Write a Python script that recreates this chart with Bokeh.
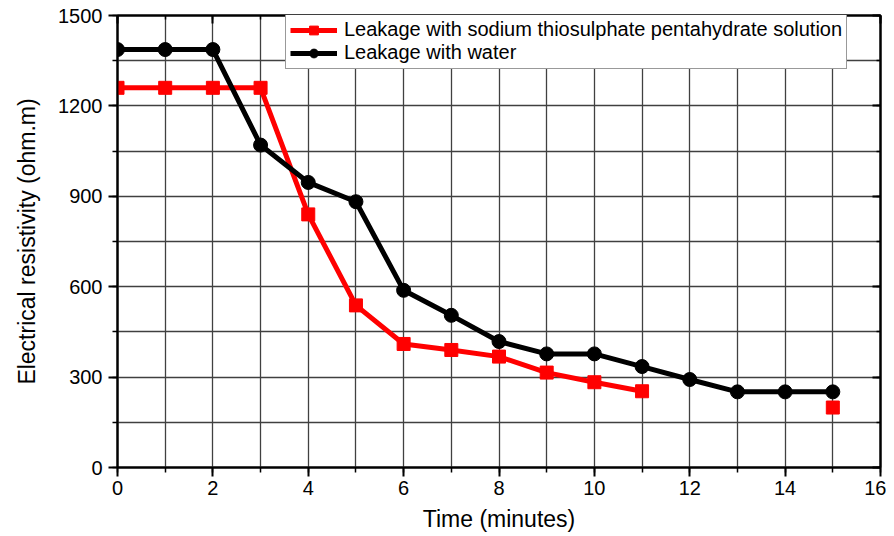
from bokeh.plotting import figure
from bokeh.models import Range1d, FixedTicker, LinearAxis, Legend, LegendItem
from bokeh.embed import file_html
from bokeh.resources import INLINE

# Data
time_red = [0, 1, 2, 3, 4, 5, 6, 7, 8, 9, 10, 11]
res_red = [1260, 1260, 1260, 1260, 840, 538, 410, 390, 368, 315, 283, 253]
time_red_extra = [15]
res_red_extra = [199]
time_black = [0, 1, 2, 3, 4, 5, 6, 7, 8, 9, 10, 11, 12, 13, 14, 15]
res_black = [1387, 1387, 1387, 1070, 946, 882, 588, 505, 418, 377, 377, 335, 292, 251, 251, 251]

x_major = [0, 2, 4, 6, 8, 10, 12, 14, 16]
x_minor = list(range(0, 17))
y_major = [0, 300, 600, 900, 1200, 1500]
y_minor = list(range(0, 1501, 150))

FONT = "Liberation Sans"

p = figure(frame_width=763, frame_height=452, output_backend="svg", toolbar_location=None,
           x_range=Range1d(0, 16), y_range=Range1d(0, 1500),
           min_border_left=117, min_border_right=6, min_border_top=15, min_border_bottom=55)
p.outline_line_color = "black"
p.outline_line_width = 2

# grids
p.xgrid.ticker = FixedTicker(ticks=x_minor)
p.ygrid.ticker = FixedTicker(ticks=y_minor)
for g in (p.xgrid, p.ygrid):
    g.grid_line_color = "#404040"
    g.grid_line_width = 1.3

# axes
for ax, maj, mn in ((p.xaxis[0], x_major, x_minor), (p.yaxis[0], y_major, y_minor)):
    ax.ticker = FixedTicker(ticks=maj, minor_ticks=mn)
    ax.axis_line_width = 2
    ax.major_tick_line_width = 2
    ax.minor_tick_line_width = 1.5
    ax.major_tick_out = 9
    ax.major_tick_in = 0
    ax.minor_tick_out = 5
    ax.minor_tick_in = 0
    ax.major_label_text_font = FONT
    ax.major_label_text_font_size = "20px"
    ax.major_label_text_color = "black"
    ax.axis_label_text_font = FONT
    ax.axis_label_text_font_style = "normal"
    ax.axis_label_text_font_size = "23px"
    ax.axis_label_text_color = "black"

p.xaxis.axis_label = "Time (minutes)"
p.yaxis.axis_label = "Electrical resistivity (ohm.m)"
p.xaxis.major_label_standoff = 4
p.yaxis.major_label_standoff = 6
p.xaxis.axis_label_standoff = 8
p.yaxis.axis_label_standoff = 15

for loc, maj, mn in (("right", y_major, y_minor), ("above", x_major, x_minor)):
    a = LinearAxis(ticker=FixedTicker(ticks=maj, minor_ticks=mn), major_label_text_font_size="0px",
                   major_tick_in=8, major_tick_out=0, minor_tick_in=4, minor_tick_out=0,
                   major_label_standoff=0,
                   axis_line_width=2, major_tick_line_width=2, minor_tick_line_width=1.5)
    a.major_label_text_alpha = 0
    p.add_layout(a, loc)

# series
r_line = p.line(time_red, res_red, line_color="#ff0000", line_width=5)
r_pts = p.scatter(time_red + time_red_extra, res_red + res_red_extra, marker="square",
                  size=13, fill_color="#ff0000", line_color="#ff0000")
b_line = p.line(time_black, res_black, line_color="black", line_width=5)
b_pts = p.scatter(time_black, res_black, marker="circle", size=14,
                  fill_color="black", line_color="black")

legend = Legend(items=[
    LegendItem(label="Leakage with sodium thiosulphate pentahydrate solution", renderers=[r_line, r_pts]),
    LegendItem(label="Leakage with water", renderers=[b_line, b_pts]),
], location=(168, 398))
legend.label_text_font = FONT
legend.label_text_font_size = "20px"
legend.label_text_color = "black"
legend.border_line_color = "#333333"
legend.border_line_width = 1
legend.padding = 4
legend.spacing = 0
legend.margin = 0
legend.glyph_width = 47
legend.glyph_height = 22
legend.label_height = 20
legend.label_standoff = 7
legend.background_fill_alpha = 1
p.add_layout(legend, "center")

open("out.html", "w").write(file_html(p, INLINE))
